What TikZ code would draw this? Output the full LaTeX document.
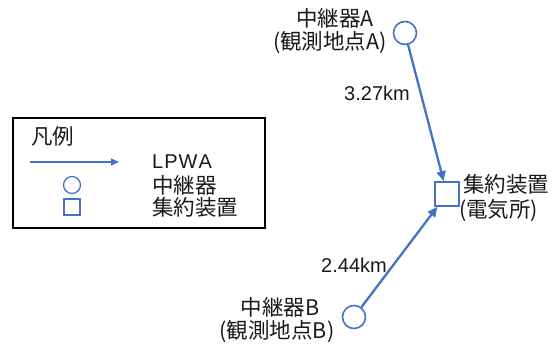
\documentclass[tikz,border=0pt]{standalone}
\usepackage{fontspec}
\setmainfont{Liberation Sans}
\newfontfamily\cjk{Noto Sans CJK JP}
\usetikzlibrary{arrows.meta}
\definecolor{ablue}{HTML}{4472C4}
\begin{document}
\begin{tikzpicture}[x=1pt,y=-1pt,
  relay/.style={circle, draw=ablue, line width=1.6pt, minimum size=23pt, inner sep=0pt},
  hub/.style={rectangle, draw=ablue, line width=1.6pt, minimum size=24pt, inner sep=0pt},
  link/.style={draw=ablue, line width=2.3pt, -{Triangle[length=10pt,width=9pt]}},
  lbl/.style={font=\fontsize{21.5}{24}\selectfont\cjk, inner sep=0pt, text=black!90},
  num/.style={font=\fontsize{20}{22}\selectfont, inner sep=0pt, text=black!90},
  legbox/.style={draw=black, line width=2pt}]
\useasboundingbox (0,0) rectangle (555,347);
% main nodes
\node[relay] (A) at (405,33) {};
\node[hub] (S) at (447,194) {};
\node[relay] (B) at (354,317) {};
\draw[link] (A) -- (S);
\draw[link] (B) -- (S);
% labels
\node[lbl] (a1) at (335,18) {中継器A};
\node[lbl] (a2) at (330,43) {(観測地点A)};
\node[lbl,anchor=west] (s1) at (463,184) {集約装置};
\node[lbl,anchor=west] (s2) at (459,211) {(電気所)};
\node[lbl] (b1) at (280,307) {中継器B};
\node[lbl] (b2) at (277,332) {(観測地点B)};
\node[num] (d1) at (377,93) {3.27km};
\node[num] (d2) at (354,265) {2.44km};
% legend
\node[legbox, minimum width=252pt, minimum height=110pt, inner sep=0pt] (leg) at (139,173) {};
\node[lbl,anchor=west] (lt) at (31,136) {凡例};
\coordinate (la1) at (30,162);
\coordinate (la2) at (119,162);
\draw[draw=ablue, line width=1.6pt, -{Triangle[length=8pt,width=7pt]}] (la1) -- (la2);
\node[relay, minimum size=17pt, line width=1.3pt] (lc) at (72,185) {};
\node[hub, minimum size=16pt, line width=1.3pt] (ls) at (72,207) {};
\node[num,anchor=west] (l1) at (152,162) {L\kern1pt P\kern1pt W\kern1pt A};
\node[lbl,anchor=west] (l2) at (152,185) {中継器};
\node[lbl,anchor=west] (l3) at (152,207) {集約装置};
\end{tikzpicture}
\end{document}
